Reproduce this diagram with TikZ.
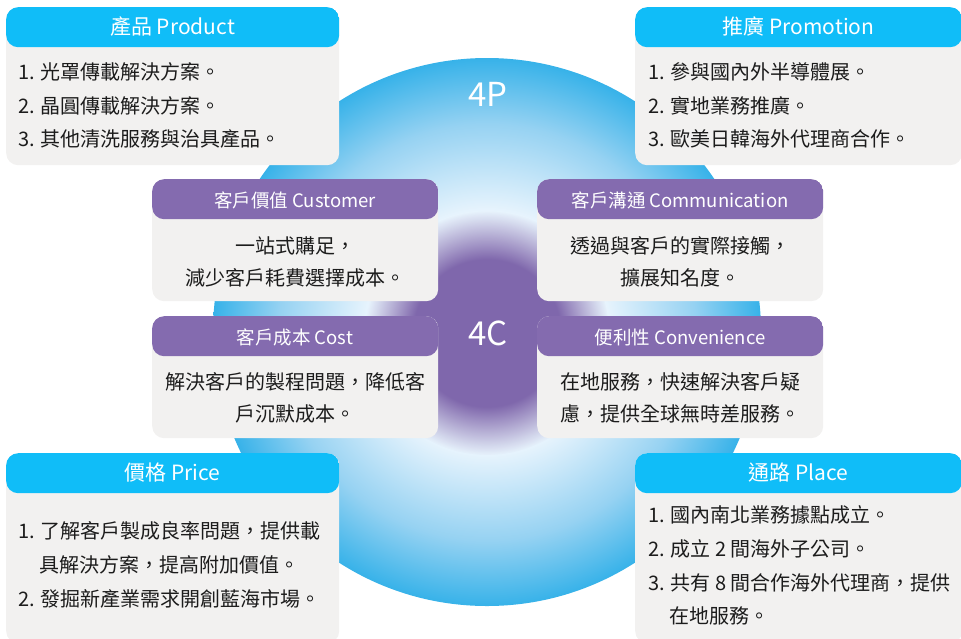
\documentclass[tikz,border=0pt]{standalone}
\usepackage{fontspec}
\setmainfont{Noto Sans CJK TC}
\usetikzlibrary{positioning,fadings}

\definecolor{headblue}{RGB}{16,189,248}
\definecolor{headpurple}{RGB}{132,107,175}
\definecolor{glowpurple}{RGB}{127,103,172}
\definecolor{cardgray}{RGB}{242,241,240}
\definecolor{inktext}{RGB}{28,28,28}
\definecolor{ballcore}{RGB}{252,254,255}
\definecolor{balllight}{RGB}{232,244,253}
\definecolor{ballmid}{RGB}{150,210,242}
\definecolor{ballrim}{RGB}{55,178,233}

\pgfdeclareradialshading{ballshade}{\pgfpointorigin}{color(0bp)=(ballcore); color(11bp)=(balllight); color(19bp)=(ballmid); color(25bp)=(ballrim); color(50bp)=(ballrim)}
\pgfdeclareradialshading{glowmask}{\pgfpointorigin}{color(0bp)=(white); color(15bp)=(white); color(25bp)=(black); color(50bp)=(black)}
\pgfdeclarefading{glowfade}{\pgfuseshading{glowmask}}

\begin{document}
\begin{tikzpicture}[x=1pt, y=-1pt,
    card/.style={rectangle, rounded corners=12pt, fill=cardgray, inner sep=0pt, anchor=north west},
    pcard/.style={card, path picture={\fill[headblue] (path picture bounding box.north west) rectangle ([yshift=-40pt]path picture bounding box.north east);}},
    ccard/.style={card, path picture={\fill[headpurple] (path picture bounding box.north west) rectangle ([yshift=-40pt]path picture bounding box.north east);}},
    ptitle/.style={text=white, inner sep=0pt, font=\fontsize{21}{24}\selectfont},
    ctitle/.style={text=white, inner sep=0pt, font=\fontsize{18.5}{21}\selectfont},
    bodyline/.style={text=inktext, inner sep=0pt, font=\fontsize{20}{22}\selectfont},
    bigtag/.style={text=white, inner sep=0pt, font=\fontsize{33}{36}\selectfont}]
  \useasboundingbox (0,0) rectangle (961,638);

  % background ball and glow
  \shade[shading=ballshade] (487,332) circle (274);
  \fill[glowpurple, path fading=glowfade] (487,333) circle (122);
  \node[bigtag] (tag4p) at (488,94) {4P};
  \node[bigtag] (tag4c) at (488,333) {4C};

  % 4P cards
  \node[pcard, minimum width=333pt, minimum height=158pt] (prodcard) at (6,7) {};
  \node[ptitle] (prodtitle) at (172.5,27) {產品 Product};
  \foreach \txt [count=\i] in {1. 光罩傳載解決方案。, 2. 晶圓傳載解決方案。, 3. 其他清洗服務與治具產品。}
    \node[bodyline, anchor=west] (prod\i) at (18,{38.5+33.5*\i}) {\txt};

  \node[pcard, minimum width=327pt, minimum height=158pt] (promcard) at (635,7) {};
  \node[ptitle] (promtitle) at (798.5,27) {推廣 Promotion};
  \foreach \txt [count=\i] in {1. 參與國內外半導體展。, 2. 實地業務推廣。, 3. 歐美日韓海外代理商合作。}
    \node[bodyline, anchor=west] (prom\i) at (648,{38.5+33.5*\i}) {\txt};

  \node[pcard, minimum width=333pt, minimum height=190pt] (pricecard) at (6,453) {};
  \node[ptitle] (pricetitle) at (172.5,473) {價格 Price};
  \foreach \txt [count=\i] in {1. 了解客戶製成良率問題，提供載, \phantom{1.\ }具解決方案，提高附加價值。, 2. 發掘新產業需求開創藍海市場。}
    \node[bodyline, anchor=west] (price\i) at (18,{497+34*\i}) {\txt};

  \node[pcard, minimum width=327pt, minimum height=190pt] (placecard) at (635,453) {};
  \node[ptitle] (placetitle) at (798.5,473) {通路 Place};
  \foreach \txt [count=\i] in {1. 國內南北業務據點成立。, 2. 成立 2 間海外子公司。, 3. 共有 8 間合作海外代理商，提供, \phantom{3.\ }在地服務。}
    \node[bodyline, anchor=west] (place\i) at (648,{481.5+33.7*\i}) {\txt};

  % 4C cards
  \node[ccard, minimum width=286pt, minimum height=122pt] (custcard) at (152,179) {};
  \node[ctitle] (custtitle) at (295,200) {客戶價值 Customer};
  \foreach \txt [count=\i] in {一站式購足，, 減少客戶耗費選擇成本。}
    \node[bodyline] (cust\i) at (295,{214+32*\i}) {\txt};

  \node[ccard, minimum width=286pt, minimum height=122pt] (commcard) at (537,179) {};
  \node[ctitle] (commtitle) at (680,200) {客戶溝通 Communication};
  \foreach \txt [count=\i] in {透過與客戶的實際接觸，, 擴展知名度。}
    \node[bodyline] (comm\i) at (680,{214+32*\i}) {\txt};

  \node[ccard, minimum width=286pt, minimum height=122pt] (costcard) at (152,316) {};
  \node[ctitle] (costtitle) at (295,337) {客戶成本 Cost};
  \foreach \txt [count=\i] in {解決客戶的製程問題，降低客, 戶沉默成本。}
    \node[bodyline] (cost\i) at (295,{350+32*\i}) {\txt};

  \node[ccard, minimum width=286pt, minimum height=122pt] (convcard) at (537,316) {};
  \node[ctitle] (convtitle) at (680,337) {便利性 Convenience};
  \foreach \txt [count=\i] in {在地服務，快速解決客戶疑, 慮，提供全球無時差服務。}
    \node[bodyline] (conv\i) at (680,{350+32*\i}) {\txt};
\end{tikzpicture}
\end{document}
